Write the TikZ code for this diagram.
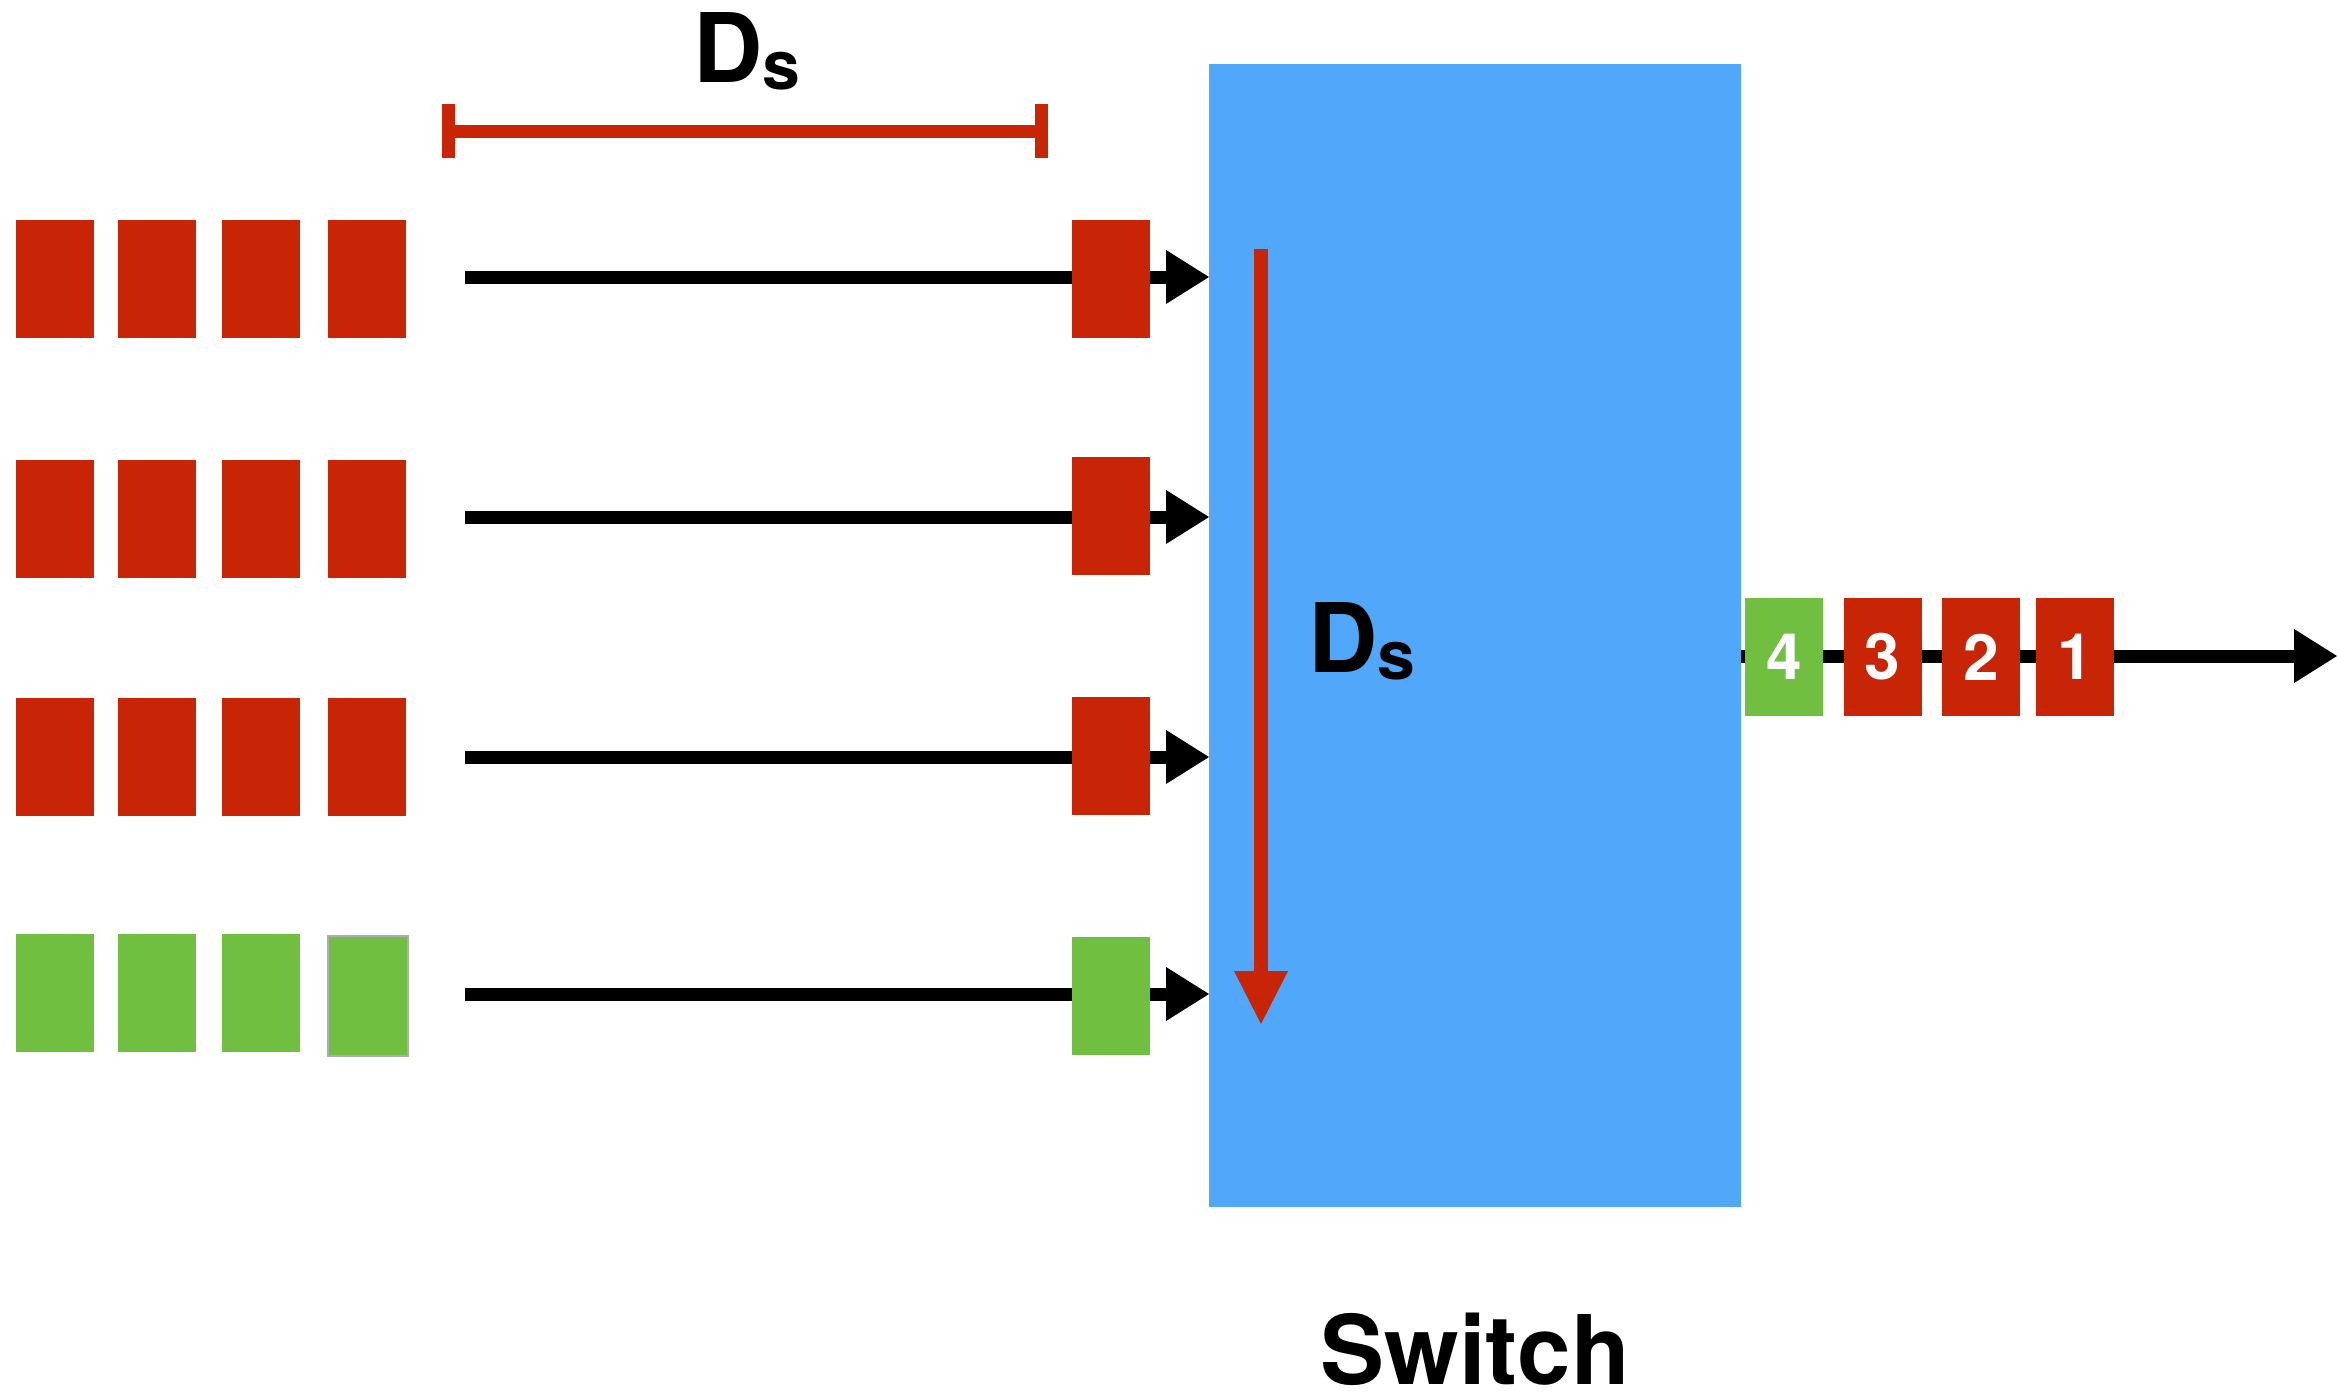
\documentclass[tikz,border=0pt]{standalone}
\usepackage{fontspec}
\setmainfont{TeX Gyre Heros}
\usetikzlibrary{arrows.meta}
\definecolor{kred}{HTML}{C82506}
\definecolor{kgreen}{HTML}{70BF41}
\definecolor{kblue}{HTML}{51A7F9}
\begin{document}
\begin{tikzpicture}[x=0.5pt,y=-0.5pt,
  pkt/.style={minimum width=39pt,minimum height=59pt,inner sep=0pt,outer sep=0pt,draw=none},
  redpkt/.style={pkt,fill=kred},
  greenpkt/.style={pkt,fill=kgreen},
  numtxt/.style={text=white,font=\fontsize{32}{32}\selectfont\bfseries},
  flow/.style={line width=6.5pt,-{Triangle[length=21.5pt,width=27pt,line width=0pt]}},
  lbl/.style={font=\fontsize{48}{48}\selectfont\bfseries,inner sep=0pt},
]
\useasboundingbox (0,0) rectangle (2337,1392);
% switch
\node[fill=kblue,minimum width=266pt,minimum height=571.5pt,inner sep=0pt,outer sep=0pt] (sw) at (1475,635.5) {};
% input flows
\coordinate (l1) at (465,277);
\coordinate (l2) at (465,517);
\coordinate (l3) at (465,757);
\coordinate (l4) at (465,994);
\foreach \c in {l1,l2,l3,l4}{
  \draw[flow] (\c) -- (\c -| sw.west);
}
% queued packets (left)
\foreach \x [count=\i] in {55,157,261}{
  \node[redpkt] (a\i) at (\x,279) {};
  \node[redpkt] (b\i) at (\x,518.5) {};
  \node[redpkt] (c\i) at (\x,757) {};
  \node[greenpkt] (d\i) at (\x,993) {};
}
\node[redpkt] (a4) at (367,279) {};
\node[redpkt] (b4) at (367,518.5) {};
\node[redpkt] (c4) at (367,757) {};
\node[greenpkt,minimum width=40pt,minimum height=60pt,draw=black!32,line width=1pt] (d4) at (367.5,996) {};
% packets arriving
\node[redpkt] (ra) at (1111,279) {};
\node[redpkt] (rb) at (1111,516) {};
\node[redpkt] (rc) at (1111,756) {};
\node[greenpkt] (rd) at (1111,996) {};
% output flow
\coordinate (o) at (2337,656);
\draw[flow] (sw.east |- o) -- (o);
\node[greenpkt,numtxt] (p4) at (1784,657) {4};
\node[redpkt,numtxt] (p3) at (1882.5,657) {3};
\node[redpkt,numtxt] (p2) at (1981,657) {2};
\node[redpkt,numtxt] (p1) at (2075,657) {1};
% Ds in switch (vertical)
\coordinate (vs) at (1261,249);
\coordinate (ve) at (1261,1024);
\draw[kred,line width=7pt,-{Triangle[length=26.5pt,width=27pt,line width=0pt]}] (vs) -- (ve);
\node[lbl,anchor=base west] (dsin) at (1308,672) {D\raisebox{-3.5pt}{\fontsize{34}{34}\selectfont s}};
% Ds on top (horizontal bracket)
\coordinate (bl) at (448,131);
\coordinate (br) at (1041.5,131);
\draw[kred,line width=6.5pt] (bl) -- (br);
\draw[kred,line width=6.5pt] ([yshift=-13.5pt]bl) -- ([yshift=13.5pt]bl);
\draw[kred,line width=6.5pt] ([yshift=-13.5pt]br) -- ([yshift=13.5pt]br);
\node[lbl,anchor=base west] (dstop) at (693,82) {D\raisebox{-3.5pt}{\fontsize{34}{34}\selectfont s}};
% switch label
\node[lbl,anchor=base] (swl) at (1475,1384) {Switch};
\end{tikzpicture}
\end{document}
